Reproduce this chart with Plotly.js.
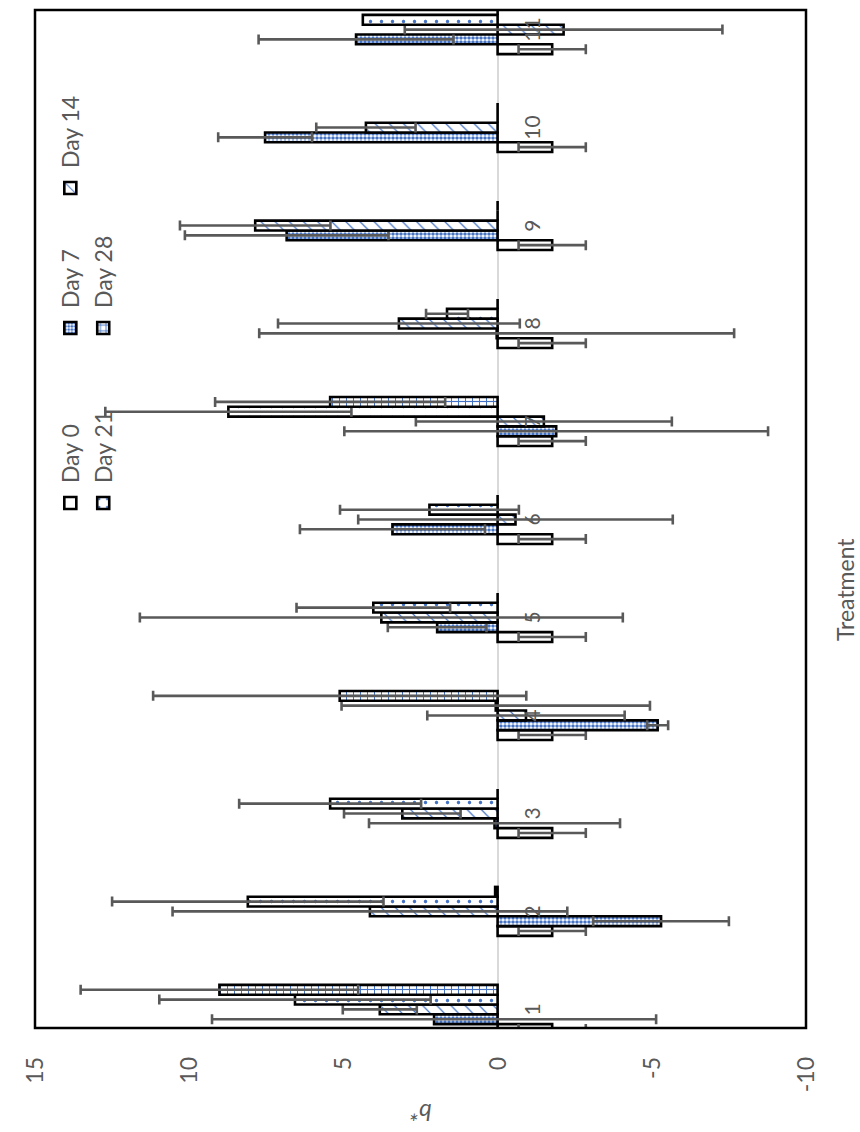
<!DOCTYPE html>
<html>
<head>
<meta charset="utf-8">
<script src="https://cdn.plot.ly/plotly-3.0.1.min.js"></script>
<style>
  html, body { margin: 0; padding: 0; background: #ffffff; }
  #wrap { position: relative; width: 860px; height: 1132px; overflow: hidden; }
  #chart { position: absolute; left: 0; top: 0; width: 1132px; height: 860px;
           transform-origin: 0 0; transform: translate(0px, 1132px) rotate(-90deg); }
</style>
</head>
<body>
<div id="wrap"><div id="chart"></div></div>
<script>
// ---- data ----
const categories = ['1','2','3','4','5','6','7','8','9','10','11'];
const seriesNames = ['Day 0','Day 7','Day 14','Day 21','Day 28'];

const day0  = [-1.77,-1.77,-1.77,-1.77,-1.77,-1.77,-1.77,-1.77,-1.77,-1.77,-1.77];
const err0  = [1.09,1.09,1.09,1.09,1.09,1.09,1.09,1.09,1.09,1.09,1.09];

const day7  = [2.06,-5.30,0.10,-5.19,1.96,3.41,-1.90,0.03,6.84,7.54,4.59];
const err7  = [7.20,2.20,4.07,0.34,1.60,3.00,6.87,7.70,3.30,1.52,3.16];

const day14 = [3.82,4.14,3.09,-0.92,3.77,-0.58,-1.50,3.20,7.86,4.27,-2.14];
const err14 = [1.20,6.40,1.89,3.20,7.83,5.10,4.15,3.92,2.44,1.61,5.15];

const day21 = [6.57,8.10,5.43,0.06,4.03,2.21,8.73,1.64,0,0,4.37];
const err21 = [4.40,4.40,2.95,5.00,2.49,2.90,3.99,0.68,NaN,NaN,NaN];

const day28 = [9.02,0.08,0,5.12,0,0,5.43,0,0,0,0];
const err28 = [4.50,NaN,NaN,6.05,NaN,NaN,3.73,NaN,NaN,NaN,NaN];

const yTicks = [-10,-5,0,5,10,15];

// ---- styling ----
const FONT = 'Lato, "Open Sans", "DejaVu Sans", sans-serif';
const GREY = '#595959';
const BLUE = '#4472C4';

function errStyle(arr) {
  return { type: 'data', array: arr, symmetric: true, visible: true,
           color: GREY, thickness: 2.6, width: 5 };
}
function mk(pattern) {
  return { color: '#ffffff', line: { color: '#000000', width: 2.6 }, pattern: pattern };
}

const values = [day0, day7, day14, day21, day28];
const errors = [err0, err7, err14, err21, err28];
const patterns = [
  { shape: '' },
  { shape: '.', fgcolor: BLUE, bgcolor: '#ffffff', size: 4, solidity: 0.55, fillmode: 'replace' },
  { shape: '/', fgcolor: BLUE, bgcolor: '#ffffff', size: 10, solidity: 0.12, fillmode: 'replace' },
  { shape: '.', fgcolor: BLUE, bgcolor: '#ffffff', size: 11, solidity: 0.08, fillmode: 'replace' },
  { shape: '+', fgcolor: BLUE, bgcolor: '#ffffff', size: 7, solidity: 0.3, fillmode: 'replace' }
];
const legendOf = ['legend', 'legend2', 'legend3', 'legend', 'legend2'];

const traces = seriesNames.map((name, i) => ({
  type: 'bar',
  name: name,
  x: categories,
  y: values[i],
  marker: mk(patterns[i]),
  error_y: errStyle(errors[i]),
  legend: legendOf[i],
  hoverinfo: 'skip'
}));

const legendBase = {
  orientation: 'v', xref: 'paper', yref: 'paper',
  xanchor: 'left', yanchor: 'top', y: 0.982,
  bgcolor: 'rgba(0,0,0,0)', borderwidth: 0, itemwidth: 30, tracegroupgap: 0,
  font: { family: FONT, size: 23, color: GREY }
};

const layout = {
  width: 1132, height: 860, autosize: false,
  margin: { l: 104, r: 10, t: 35, b: 54, pad: 0, autoexpand: false },
  paper_bgcolor: '#ffffff', plot_bgcolor: '#ffffff',
  barmode: 'group', bargap: 0.5, bargroupgap: 0,
  font: { family: FONT, color: GREY },
  showlegend: true,
  legend:  Object.assign({}, legendBase, { x: 0.496 }),
  legend2: Object.assign({}, legendBase, { x: 0.668 }),
  legend3: Object.assign({}, legendBase, { x: 0.8055 }),
  xaxis: {
    type: 'category', range: [-0.19, 10.2],
    anchor: 'free', position: 0.4, automargin: false,
    showline: false, showgrid: false, zeroline: false, ticks: '',
    tickfont: { family: FONT, size: 21, color: GREY },
    ticklabelstandoff: 20
  },
  yaxis: {
    range: [-10, 15], tickvals: yTicks, ticktext: yTicks.map(String), automargin: false,
    showline: false, showgrid: false, ticks: '',
    zeroline: true, zerolinecolor: '#d9d9d9', zerolinewidth: 2,
    tickfont: { family: FONT, size: 23, color: GREY },
    ticklabelstandoff: 28
  },
  shapes: [{
    type: 'rect', xref: 'paper', yref: 'paper', x0: 0, x1: 1, y0: 0, y1: 1,
    line: { color: '#000000', width: 2.5 }, fillcolor: 'rgba(0,0,0,0)', layer: 'above'
  }],
  annotations: [
    { text: '<i>b*</i>', xref: 'paper', yref: 'paper', x: (19 - 104) / 1018, y: 0.5,
      xanchor: 'center', yanchor: 'middle', textangle: -90, showarrow: false,
      font: { family: FONT, size: 24, color: GREY } },
    { text: 'Treatment', xref: 'paper', yref: 'paper', x: (542 - 104) / 1018, y: (806 - 845) / 771,
      xanchor: 'center', yanchor: 'middle', showarrow: false,
      font: { family: FONT, size: 23, color: GREY } }
  ]
};

Plotly.newPlot('chart', traces, layout, { staticPlot: true, displayModeBar: false });
</script>
</body>
</html>
